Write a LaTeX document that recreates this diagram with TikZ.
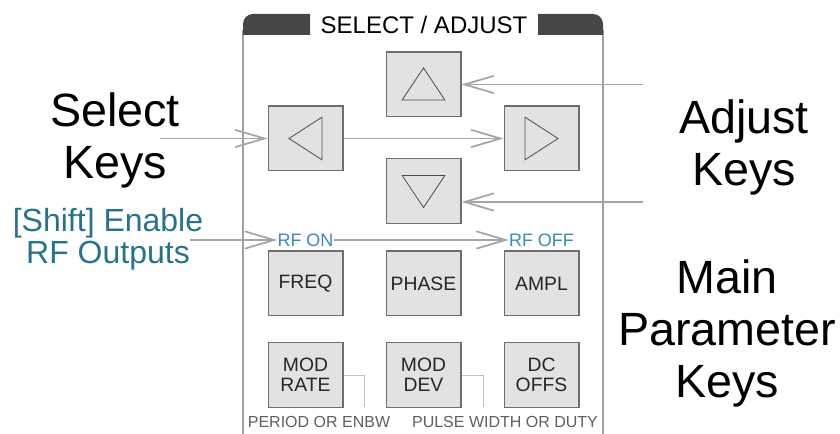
\documentclass[tikz,border=0pt]{standalone}
\usepackage{fontspec}
\setmainfont{Liberation Sans}
\usetikzlibrary{arrows.meta}
\definecolor{barcol}{RGB}{70,70,70}
\definecolor{edgecol}{RGB}{160,160,160}
\definecolor{keyfill}{RGB}{226,226,226}
\definecolor{keyedge}{RGB}{110,110,110}
\definecolor{pointer}{RGB}{165,165,165}
\definecolor{shifttext}{RGB}{40,115,140}
\definecolor{rftext}{RGB}{58,138,178}
\definecolor{subtext}{RGB}{95,95,95}
\begin{document}
\begin{tikzpicture}[x=0.75pt,y=0.75pt,yscale=-1,xscale=1,
  key/.style={draw=keyedge,fill=keyfill,line width=1pt,minimum width=56pt,minimum height=48.5pt,inner sep=0pt,font=\fontsize{14.5}{15}\selectfont,text=black!85,align=center},
  bigtext/.style={align=center,inner sep=0pt,font=\fontsize{35}{39}\selectfont},
  pointarrow/.style={draw=pointer,line width=1.3pt,-{Straight Barb[length=22pt,width=13pt,line width=1.3pt]}},
  tri/.style={draw=black!70,line width=0.6pt,line join=miter},
  bracket/.style={draw=black!25,line width=0.6pt}]
\useasboundingbox (0,0) rectangle (840,434);

%Shape: Panel sides
\draw [edgecol,line width=1.1pt] (243,30) -- (243,440) (603,30) -- (603,440) ;
%Shape: Title bars
\fill [barcol] (243,35) -- (243,24) arc (180:270:10) -- (310,14) -- (310,35) -- cycle ;
\fill [barcol] (603,35) -- (603,24) arc (0:-90:10) -- (538,14) -- (538,35) -- cycle ;
% Text Node
\node [inner sep=0pt,font=\fontsize{18}{20}\selectfont] (title) at (424,25) {SELECT / ADJUST};

%Shape: Keys
\node [key] (up) at (423.5,84.5) {};
\node [key] (left) at (305.5,138.5) {};
\node [key] (right) at (541.5,138.5) {};
\node [key] (down) at (423.5,191) {};
\node [key] (freq) at (305.5,283.5) {FREQ};
\node [key] (phase) at (423.5,283.5) {PHASE};
\node [key] (ampl) at (541.5,283.5) {AMPL};
\node [key] (mrate) at (305.5,375) {MOD\\RATE};
\node [key] (mdev) at (423.5,375) {MOD\\DEV};
\node [key] (dcoffs) at (541.5,375) {DC\\OFFS};

%Shape: Triangles
\draw [tri] ([yshift=-12.4pt]up.center) -- ([xshift=-16pt,yshift=11.6pt]up.center) -- ([xshift=16pt,yshift=11.6pt]up.center) -- cycle ;
\draw [tri] ([yshift=12.4pt]down.center) -- ([xshift=-16pt,yshift=-11.6pt]down.center) -- ([xshift=16pt,yshift=-11.6pt]down.center) -- cycle ;
\draw [tri] ([xshift=-12.4pt]left.center) -- ([xshift=12.4pt,yshift=16pt]left.center) -- ([xshift=12.4pt,yshift=-16pt]left.center) -- cycle ;
\draw [tri] ([xshift=12.4pt]right.center) -- ([xshift=-12.4pt,yshift=16pt]right.center) -- ([xshift=-12.4pt,yshift=-16pt]right.center) -- cycle ;

% Text Node
\node [inner sep=0pt,text=rftext,font=\fontsize{13.5}{14}\selectfont] (rfon) at (305.5,240) {RF ON};
\node [inner sep=0pt,text=rftext,font=\fontsize{13.5}{14}\selectfont] (rfoff) at (541.5,240) {RF OFF};

%Straight Lines: brackets
\coordinate (brkrate) at (364,407);
\coordinate (brkdev) at (483,407);
\draw [bracket] (mrate.east) -| (brkrate) ;
\draw [bracket] (mdev.east) -| (brkdev) ;

% Text Node
\node [inner sep=0pt,text=subtext,font=\fontsize{12}{13}\selectfont] (period) at (319,422) {PERIOD OR ENBW};
\node [inner sep=0pt,text=subtext,font=\fontsize{12}{13}\selectfont] (pulse) at (505,422) {PULSE WIDTH OR DUTY};

% Text Node
\node [bigtext] (selkeys) at (115,140) {Select\\Keys};
\node [bigtext] (adjkeys) at (744,147) {Adjust\\Keys};
\node [bigtext] (mainkeys) at (727,333) {Main\\Parameter\\Keys};
\node [align=center,inner sep=0pt,text=shifttext,font=\fontsize{24}{24}\selectfont] (shift) at (108,239) {[Shift] Enable\\RF Outputs};

%Straight Lines: pointers
\coordinate (selstart) at (160,138.5);
\coordinate (adjup) at (643,84.5);
\coordinate (adjdown) at (643,202);
\coordinate (shiftstart) at (190,240);
\draw [pointarrow] (selstart) -- (left.west) ;
\draw [pointarrow] (left.east) -- (right.west) ;
\draw [pointarrow] (adjup) -- (up.east) ;
\draw [pointarrow] (adjdown) -- (down.east |- adjdown) ;
\draw [pointarrow] (shiftstart) -- (rfon.west) ;
\draw [pointarrow] (rfon.east) -- (rfoff.west) ;

\end{tikzpicture}
\end{document}
